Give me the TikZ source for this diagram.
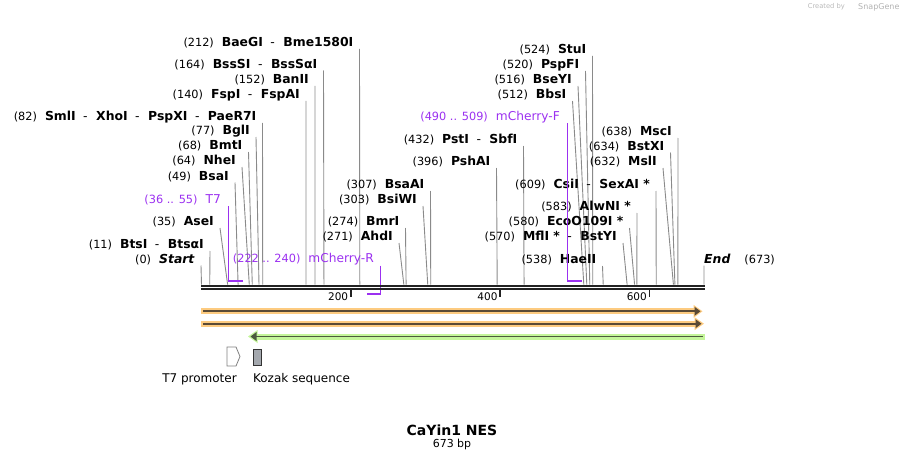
\documentclass[tikz,border=0pt]{standalone}
\usepackage{fontspec}
\setmainfont{DejaVu Sans}
\usetikzlibrary{calc}
\usetikzlibrary{positioning}

\definecolor{primer}{HTML}{9B30F0}
\definecolor{cutgray}{HTML}{8A8A8A}
\definecolor{axisdark}{HTML}{222222}
\definecolor{orangeband}{HTML}{FDCB80}
\definecolor{greenband}{HTML}{C4F59A}
\definecolor{featdark}{HTML}{5A4A35}
\definecolor{greendark}{HTML}{4C5A3E}
\definecolor{kozakfill}{HTML}{A4A8AE}

\newcommand{\sitenum}[1]{{\fontsize{11.3}{13}\selectfont(#1)}\hspace{8pt}}
\newcommand{\enzsep}{\hspace{7.5pt}-\hspace{8.5pt}}

\begin{document}
\begin{tikzpicture}[x=1pt,y=-1pt,inner sep=0pt,
  site/.style={anchor=east,font=\fontsize{12.4}{14}\selectfont},
  primerlbl/.style={anchor=east,text=primer,font=\fontsize{12.2}{14}\selectfont},
  cutline/.style={draw=cutgray,line width=0.9pt},
  primerline/.style={draw=primer,line width=1.3pt},
  primerbar/.style={draw=primer,line width=2.2pt},
  featlbl/.style={font=\fontsize{12}{14}\selectfont}]
\useasboundingbox (0,0) rectangle (906,460);

% watermark
\node [anchor=east,text=gray!55,font=\fontsize{6.7}{8}\selectfont] (made) at (845,7) {Created by};
\node [anchor=west,text=gray!60,font=\fontsize{8}{9}\selectfont] (snap) at (858,7) {SnapGene};

% cut positions on the backbone
\foreach \n/\b in {start/0,btsi/11,asei/35,bsai/49,nhei/64,bmti/68,bgli/77,smli/82,fspi/140,banii/152,bsssi/164,baegi/212,ahdi/271,bmri/274,bsiwi/303,bsaai/307,pshai/396,psti/432,bbsi/512,bseyi/516,pspfi/520,stui/524,haeii/538,mfli/570,ecoi/580,alwni/583,csii/609,msli/632,bstxi/634,msci/638,endlbl/673}
  \coordinate (\n-c) at ({201.5+\b*0.7467},284.6);

% enzyme sites, left group
\node [site] (start) at (195,259.5) {\sitenum{0}\textbf{\textit{Start}}};
\draw [cutline] ($(start.east)+(6,6)$) -- (start-c);
\node [site] (btsi) at (204,245) {\sitenum{11}\textbf{BtsI}\enzsep\textbf{BtsαI}};
\draw [cutline] ($(btsi.east)+(6,6)$) -- (btsi-c);
\node [site] (asei) at (214,222) {\sitenum{35}\textbf{AseI}};
\draw [cutline] ($(asei.east)+(6,6)$) -- (asei-c);
\node [site] (bsai) at (229,176.5) {\sitenum{49}\textbf{BsaI}};
\draw [cutline] ($(bsai.east)+(6,6)$) -- (bsai-c);
\node [site] (nhei) at (236,161) {\sitenum{64}\textbf{NheI}};
\draw [cutline] ($(nhei.east)+(6,6)$) -- (nhei-c);
\node [site] (bmti) at (242.5,146) {\sitenum{68}\textbf{BmtI}};
\draw [cutline] ($(bmti.east)+(6,6)$) -- (bmti-c);
\node [site] (bgli) at (250,131) {\sitenum{77}\textbf{BglI}};
\draw [cutline] ($(bgli.east)+(6,6)$) -- (bgli-c);
\node [site] (smli) at (256.5,117) {\sitenum{82}\textbf{SmlI}\enzsep\textbf{XhoI}\enzsep\textbf{PspXI}\enzsep\textbf{PaeR7I}};
\draw [cutline] ($(smli.east)+(6,6)$) -- (smli-c);
\node [site] (fspi) at (300,95) {\sitenum{140}\textbf{FspI}\enzsep\textbf{FspAI}};
\draw [cutline] ($(fspi.east)+(6,6)$) -- (fspi-c);
\node [site] (banii) at (309,80) {\sitenum{152}\textbf{BanII}};
\draw [cutline] ($(banii.east)+(6,6)$) -- (banii-c);
\node [site] (bsssi) at (317.5,64.5) {\sitenum{164}\textbf{BssSI}\enzsep\textbf{BssSαI}};
\draw [cutline] ($(bsssi.east)+(6,6)$) -- (bsssi-c);
\node [site] (baegi) at (353.5,43) {\sitenum{212}\textbf{BaeGI}\enzsep\textbf{Bme1580I}};
\draw [cutline] ($(baegi.east)+(6,6)$) -- (baegi-c);

% middle group
\node [site] (ahdi) at (393,237) {\sitenum{271}\textbf{AhdI}};
\draw [cutline] ($(ahdi.east)+(6,6)$) -- (ahdi-c);
\node [site] (bmri) at (399.5,222) {\sitenum{274}\textbf{BmrI}};
\draw [cutline] ($(bmri.east)+(6,6)$) -- (bmri-c);
\node [site] (bsiwi) at (417,200) {\sitenum{303}\textbf{BsiWI}};
\draw [cutline] ($(bsiwi.east)+(6,6)$) -- (bsiwi-c);
\node [site] (bsaai) at (424.5,185) {\sitenum{307}\textbf{BsaAI}};
\draw [cutline] ($(bsaai.east)+(6,6)$) -- (bsaai-c);
\node [site] (pshai) at (490.5,162) {\sitenum{396}\textbf{PshAI}};
\draw [cutline] ($(pshai.east)+(6,6)$) -- (pshai-c);
\node [site] (psti) at (517.5,140) {\sitenum{432}\textbf{PstI}\enzsep\textbf{SbfI}};
\draw [cutline] ($(psti.east)+(6,6)$) -- (psti-c);

% right group
\node [site] (bbsi) at (566.5,95) {\sitenum{512}\textbf{BbsI}};
\draw [cutline] ($(bbsi.east)+(6,6)$) -- (bbsi-c);
\node [site] (bseyi) at (572,80) {\sitenum{516}\textbf{BseYI}};
\draw [cutline] ($(bseyi.east)+(6,6)$) -- (bseyi-c);
\node [site] (pspfi) at (579.5,65) {\sitenum{520}\textbf{PspFI}};
\draw [cutline] ($(pspfi.east)+(6,6)$) -- (pspfi-c);
\node [site] (stui) at (586.5,50) {\sitenum{524}\textbf{StuI}};
\draw [cutline] ($(stui.east)+(6,6)$) -- (stui-c);
\node [site] (haeii) at (596.5,260) {\sitenum{538}\textbf{HaeII}};
\draw [cutline] ($(haeii.east)+(6,6)$) -- (haeii-c);
\node [site] (mfli) at (617,237) {\sitenum{570}\textbf{MflI *}\enzsep\textbf{BstYI}};
\draw [cutline] ($(mfli.east)+(6,6)$) -- (mfli-c);
\node [site] (ecoi) at (623.5,222) {\sitenum{580}\textbf{EcoO109I *}};
\draw [cutline] ($(ecoi.east)+(6,6)$) -- (ecoi-c);
\node [site] (alwni) at (631,207) {\sitenum{583}\textbf{AlwNI *}};
\draw [cutline] ($(alwni.east)+(6,6)$) -- (alwni-c);
\node [site] (csii) at (650,185) {\sitenum{609}\textbf{CsiI}\enzsep\textbf{SexAI *}};
\draw [cutline] ($(csii.east)+(6,6)$) -- (csii-c);
\node [site] (msli) at (657,162) {\sitenum{632}\textbf{MslI}};
\draw [cutline] ($(msli.east)+(6,6)$) -- (msli-c);
\node [site] (bstxi) at (664.5,146.5) {\sitenum{634}\textbf{BstXI}};
\draw [cutline] ($(bstxi.east)+(6,6)$) -- (bstxi-c);
\node [site] (msci) at (672,132) {\sitenum{638}\textbf{MscI}};
\draw [cutline] ($(msci.east)+(6,6)$) -- (msci-c);
\node [site,anchor=west] (endlbl) at (704,259.5) {\textbf{\textit{End}}\hspace{14pt}{\fontsize{11.3}{13}\selectfont(673)}};
\draw [cutline] ($(endlbl.west)+(0,6)$) -- (endlbl-c);

% primers
\coordinate (t7-a) at ({201.5+36*0.7467},281);
\coordinate (t7-b) at ({201.5+55*0.7467},281);
\node [primerlbl] (t7) at (221,200) {\sitenum{36 .. 55}T7};
\draw [primerline] ($(t7-a |- t7.east)+(0,6)$) -- (t7-a);
\draw [primerbar] (t7-a) -- (t7-b);
\coordinate (mchr-a) at ({201.5+222*0.7467},294);
\coordinate (mchr-b) at ({201.5+240*0.7467},294);
\node [primerlbl] (mchr) at (374,259.5) {\sitenum{222 .. 240}mCherry-R};
\draw [primerline] ($(mchr-b |- mchr.east)+(0,6)$) -- (mchr-b);
\draw [primerbar] (mchr-b) -- (mchr-a);
\coordinate (mchf-a) at ({201.5+490*0.7467},281);
\coordinate (mchf-b) at ({201.5+509*0.7467},281);
\node [primerlbl] (mchf) at (560,117.3) {\sitenum{490 .. 509}mCherry-F};
\draw [primerline] ($(mchf-a |- mchf.east)+(0,6)$) -- (mchf-a);
\draw [primerbar] (mchf-a) -- (mchf-b);

% backbone
\draw [axisdark,line width=2pt] (201,285.7) -- (705,285.7);
\draw [axisdark,line width=2pt] (201,289.3) -- (705,289.3);
\foreach \t in {200,400,600} {
  \draw [axisdark,line width=1.6pt] ({201.5+\t*0.7467},290.3) -- ++(0,7);
  \node [anchor=east,font=\fontsize{10.5}{12}\selectfont] at ({201.5+\t*0.7467-2.5},297) {\t};
}

% features
\fill [orangeband] (201,308.3) rectangle (695,314.3);
\fill [orangeband] (693.5,304.8) -- (702.5,311.3) -- (693.5,317.8) -- cycle;
\draw [featdark,line width=1.8pt] (203,311.3) -- (696,311.3);
\fill [featdark] (694.5,306.8) -- (700.5,311.3) -- (694.5,315.8) -- cycle;
\fill [orangeband] (201,320.7) rectangle (696,326.7);
\fill [orangeband] (694.5,317.2) -- (704,323.7) -- (694.5,330.2) -- cycle;
\draw [featdark,line width=1.8pt] (203,323.7) -- (697,323.7);
\fill [featdark] (695.5,319.2) -- (701.5,323.7) -- (695.5,328.2) -- cycle;
\fill [greenband] (256,333.5) rectangle (705,339.5);
\fill [greenband] (257.5,330) -- (248,336.5) -- (257.5,343) -- cycle;
\draw [greendark,line width=1.8pt] (255,336.5) -- (703,336.5);
\fill [greendark] (256.5,332) -- (250.5,336.5) -- (256.5,341) -- cycle;

% T7 promoter and Kozak
\draw [draw=gray,fill=white,line width=0.8pt] (227,347) -- (236,347) -- (240,356.5) -- (236,366) -- (227,366) -- cycle;
\draw [draw=gray!40!black,fill=kozakfill,line width=0.8pt] (253,349) rectangle (261,365);
\node [featlbl] (t7prom) at (199.5,379) {T7 promoter};
\node [featlbl] (kozak) at (301.5,379) {Kozak sequence};

% title
\node [font=\bfseries\fontsize{14}{16}\selectfont] (title) at (452,430) {CaYin1 NES};
\node [font=\fontsize{11}{13}\selectfont,below=3pt of title] (size) {673 bp};
\end{tikzpicture}
\end{document}
